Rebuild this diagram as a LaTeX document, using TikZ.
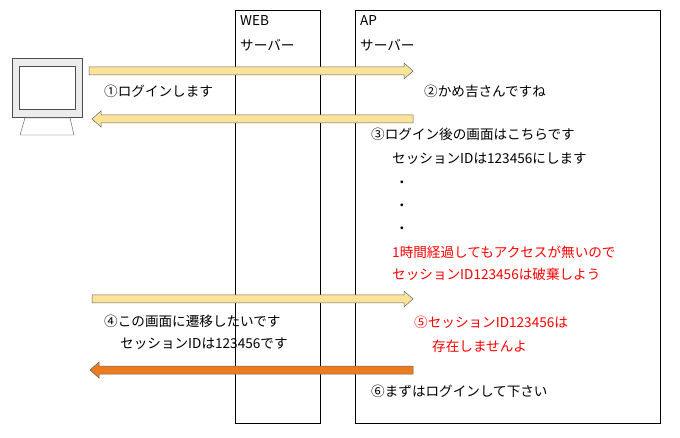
\documentclass[tikz,border=0pt]{standalone}
\usepackage{fontspec}
\setmainfont{Noto Sans CJK JP}
\usetikzlibrary{arrows.meta}
\definecolor{pale}{HTML}{FBE39A}
\definecolor{org}{HTML}{EE7A1E}
\tikzset{
 fat/.style={draw=gray!80!black,line width=0.5pt,fill=#1},
 t/.style={anchor=west,inner sep=0pt,font=\fontsize{13.6}{15}\selectfont},
 red/.style={t,text=red}
}
\newcommand{\fatarrow}[4]{% x1 x2 y color
 \pgfmathsetmacro{\dir}{#2>#1?1:-1}
 \pgfmathsetmacro{\xb}{#2-\dir*9}
 \draw[fat=#4] (#1,#3-4) -- (\xb,#3-4) -- (\xb,#3-8) -- (#2,#3) -- (\xb,#3+8) -- (\xb,#3+4) -- (#1,#3+4) -- cycle;}
\begin{document}
\begin{tikzpicture}[x=1pt,y=-1pt]
\useasboundingbox (0,0) rectangle (680,438);
\node[draw,minimum width=85,minimum height=413,anchor=north west,inner sep=0] (web) at (235,10) {};
\node[draw,minimum width=305,minimum height=413,anchor=north west,inner sep=0] (ap) at (355,10) {};
\node[t] (w1) at (240,21) {WEB};
\node[t] (w2) at (240,45) {サーバー};
\node[t] (a1) at (360,21) {AP};
\node[t] (a2) at (360,45) {サーバー};
% monitor
\draw[fill=gray!15,draw=gray!60!black] (12,58) rectangle (82,117);
\draw[fill=white,draw=gray!60!black] (19,66) rectangle (75,109);
\draw[fill=white,draw=gray!60!black] (25,118) -- (70,118) -- (74,135) -- (20,135) -- cycle;
\fatarrow{89}{413}{71}{pale}
\fatarrow{413}{92}{119}{pale}
\fatarrow{92}{413}{299}{pale}
\fatarrow{413}{90}{370}{org}
\node[t] (m1) at (104,91) {①ログインします};
\node[t] (m2) at (424,91) {②かめ吉さんですね};
\node[t] (m3) at (371,134) {③ログイン後の画面はこちらです};
\node[t] (m3b) at (392,159) {セッションIDは123456にします};
\foreach \yy in {184,207,230} \node[t] at (395,\yy) {・};
\node[red] (r1) at (392,252) {1時間経過してもアクセスが無いので};
\node[red] (r2) at (392,274) {セッションID123456は破棄しよう};
\node[t] (m4) at (104,321) {④この画面に遷移したいです};
\node[t] (m4b) at (120,344) {セッションIDは123456です};
\node[red] (m5) at (414,322) {⑤セッションID123456は};
\node[red] (m5b) at (432,346) {存在しませんよ};
\node[t] (m6) at (371,391) {⑥まずはログインして下さい};
\end{tikzpicture}
\end{document}
